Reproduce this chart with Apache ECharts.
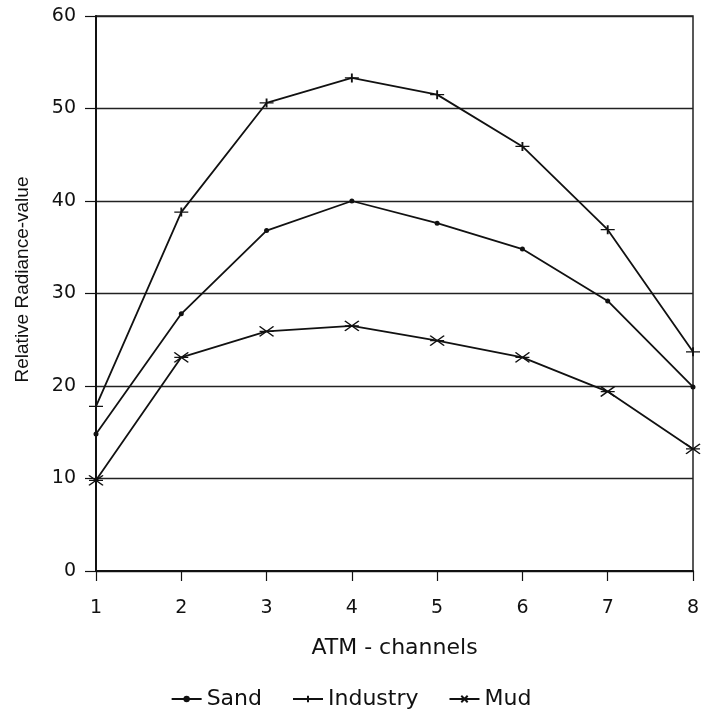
<!DOCTYPE html>
<html>
<head>
<meta charset="UTF-8">
<title>Relative Radiance-value by ATM channel</title>
<script src="https://cdn.jsdelivr.net/npm/echarts@6/dist/echarts.min.js"></script>
<style>
  html, body { margin: 0; padding: 0; background: #fff; }
  #chart { width: 702px; height: 715px; }
</style>
</head>
<body>
<div id="chart"></div>
<script>
// values
const channels = ['1', '2', '3', '4', '5', '6', '7', '8'];
const sand = [14.8, 27.8, 36.8, 40.0, 37.6, 34.8, 29.2, 19.9];
const industry = [17.8, 38.8, 50.6, 53.3, 51.5, 45.9, 36.9, 23.7];
const mud = [9.8, 23.1, 25.9, 26.5, 24.9, 23.1, 19.4, 13.2];
const yTicks = [0, 10, 20, 30, 40, 50, 60];

// the scanned figure uses a wide lettering, DejaVu is the closest
const font = '"DejaVu Sans", Arial, sans-serif';
const plusPath = 'path://M0,4 L14,4 M7,0 L7,8';
const starPath = 'path://M0,0 L10,10 M10,0 L0,10 M0,5 L10,5';

function lineSeries(name, data, symbol, size, border) {
    return {
        name: name,
        type: 'line',
        data: data,
        symbol: symbol,
        symbolSize: size,
        showSymbol: true,
        lineStyle: { color: '#111', width: 1.8 },
        itemStyle: { color: '#111', borderColor: '#111', borderWidth: border },
        z: 3
    };
}

const chart = echarts.init(document.getElementById('chart'));
chart.setOption({
    animation: false,
    backgroundColor: '#fff',
    grid: {
        left: 96, right: 9, top: 16, bottom: 144,
        outerBoundsMode: 'none',
        containLabel: false,
        show: true, borderColor: '#222', borderWidth: 1.5
    },
    legend: {
        top: 683,
        left: 'center',
        itemWidth: 30,
        itemHeight: 8,
        itemGap: 30,
        textStyle: { fontFamily: font, fontSize: 22, color: '#111' },
        data: ['Sand', 'Industry', 'Mud']
    },
    xAxis: {
        type: 'category',
        data: channels,
        boundaryGap: false,
        name: 'ATM - channels',
        nameLocation: 'middle',
        nameGap: 66,
        nameTextStyle: { fontFamily: font, fontSize: 22, color: '#111' },
        axisLine: { lineStyle: { color: '#111', width: 2 } },
        axisTick: { show: true, inside: false, length: 10, lineStyle: { color: '#111', width: 1.2 } },
        axisLabel: { fontFamily: font, fontSize: 19, color: '#111', margin: 28 },
        splitLine: { show: false }
    },
    yAxis: {
        type: 'value',
        min: yTicks[0],
        max: yTicks[yTicks.length - 1],
        interval: 10,
        name: 'Relative Radiance-value',
        nameLocation: 'middle',
        nameGap: 64,
        nameTextStyle: {
            fontFamily: '"Liberation Sans Narrow", "Liberation Sans", Arial, sans-serif',
            fontSize: 19, color: '#111',
            padding: [0, 0, 0, 28]
        },
        axisLine: { show: true, lineStyle: { color: '#111', width: 2 } },
        axisTick: { show: true, inside: false, length: 11, lineStyle: { color: '#111', width: 1.2 } },
        axisLabel: { fontFamily: font, fontSize: 19, color: '#111', margin: 20 },
        splitLine: { show: true, lineStyle: { color: '#222', width: 1.3 } }
    },
    series: [
        lineSeries('Sand', sand, 'circle', 5, 0),
        lineSeries('Industry', industry, plusPath, [14, 9], 1.5),
        lineSeries('Mud', mud, starPath, [14, 10], 1.5)
    ]
});
</script>
</body>
</html>
